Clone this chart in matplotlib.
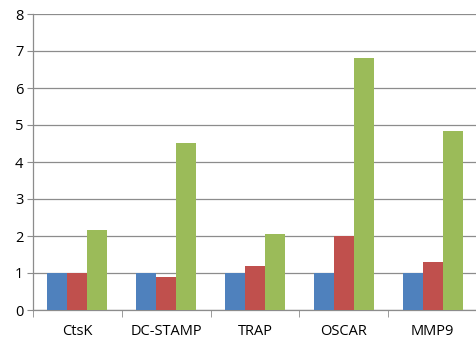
import matplotlib.pyplot as plt
import numpy as np

genes = ['CtsK', 'DC-STAMP', 'TRAP', 'OSCAR', 'MMP9']
series_a = [1.0, 1.0, 1.0, 1.0, 1.0]
series_b = [1.0, 0.88, 1.18, 2.0, 1.3]
series_c = [2.17, 4.52, 2.05, 6.82, 4.84]
colors = ['#4F81BD', '#C0504D', '#9BBB59']

plt.rcParams['font.family'] = ['Open Sans', 'DejaVu Sans']

fig = plt.figure(figsize=(4.77, 3.43), dpi=100)
ax = fig.add_axes([33 / 477, 33 / 343, 444 / 477, 296 / 343])

x = np.arange(len(genes))
w = 0.225
for i, vals in enumerate([series_a, series_b, series_c]):
    ax.bar(x + (i - 1) * w, vals, width=w, color=colors[i], zorder=3)

ax.set_xlim(-0.5, len(genes) - 0.5)
ax.set_ylim(0, 8)
ax.set_yticks(range(0, 9))
ax.yaxis.grid(True, color='#8c8c8c', linewidth=0.9, zorder=0)
ax.tick_params(axis='y', length=4, color='#8c8c8c', labelsize=10.5, pad=3)

ax.set_xticks(x)
ax.set_xticklabels(genes)
ax.set_xticks(np.arange(-0.5, len(genes)), minor=True)
ax.tick_params(axis='x', which='major', length=0, labelsize=10.5, pad=10)
ax.tick_params(axis='x', which='minor', length=5, color='#8c8c8c')

for s in ['top', 'right']:
    ax.spines[s].set_visible(False)
for s in ['left', 'bottom']:
    ax.spines[s].set_color('#8c8c8c')
    ax.spines[s].set_linewidth(0.9)

fig.savefig('out.png', dpi=100)
